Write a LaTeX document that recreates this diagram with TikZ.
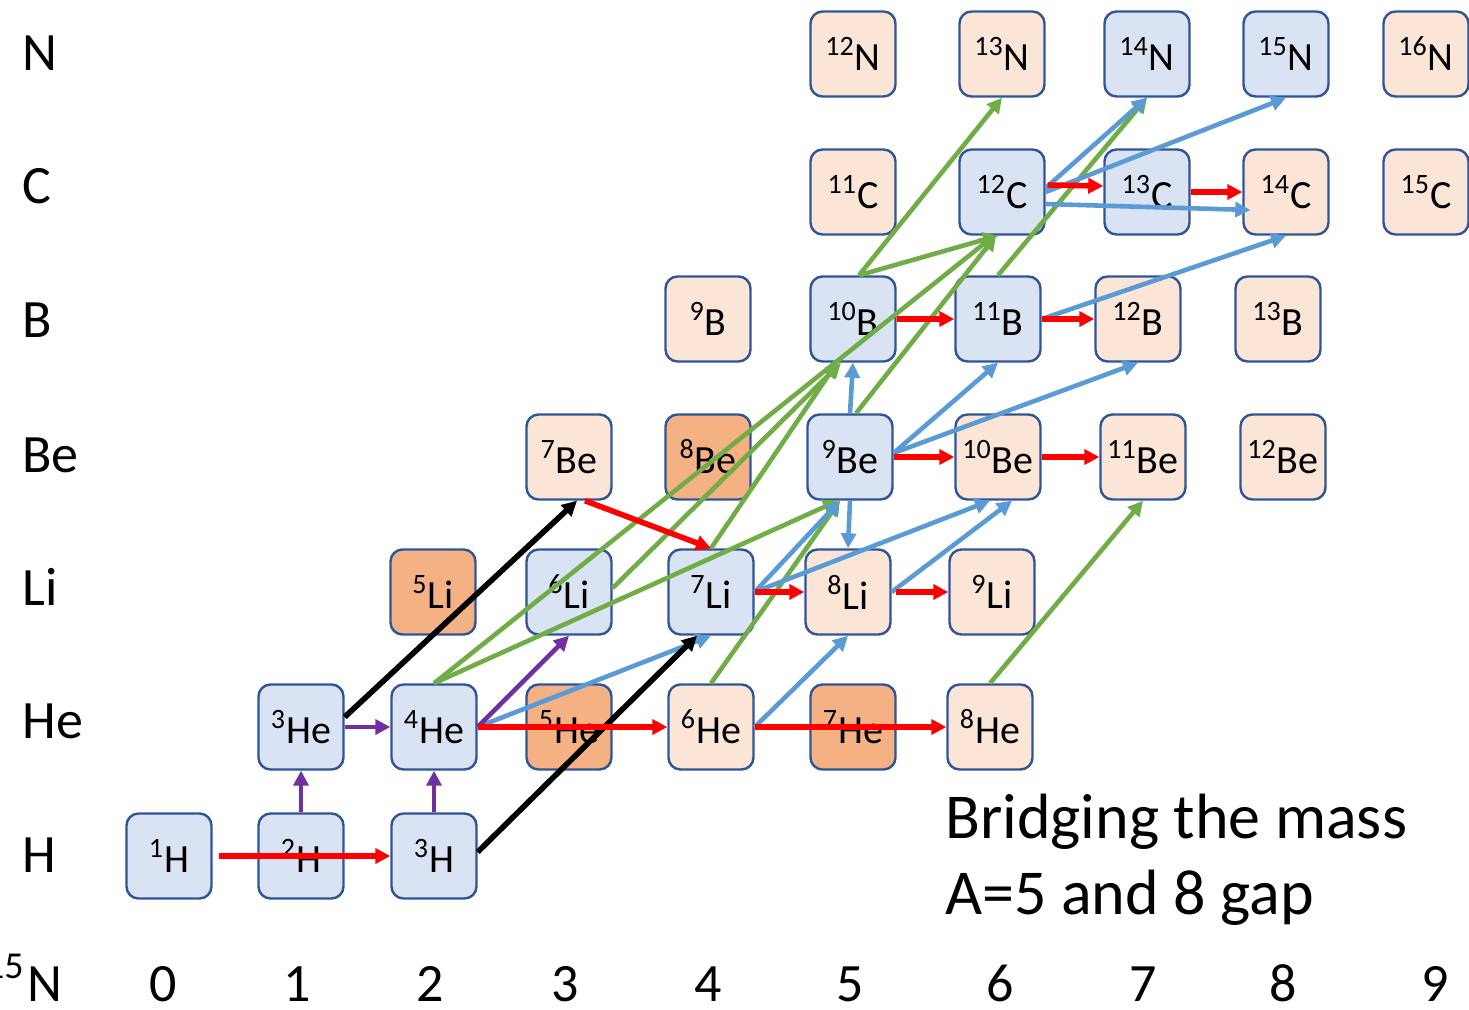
\documentclass[tikz,border=0pt]{standalone}
\usepackage{fontspec}
\setmainfont{Carlito}
\usetikzlibrary{arrows.meta}
\definecolor{bxblue}{HTML}{DAE3F3}
\definecolor{bxpeach}{HTML}{FBE5D6}
\definecolor{bxorange}{HTML}{F4B183}
\definecolor{bxborder}{HTML}{2F5597}
\definecolor{agreen}{HTML}{70AD47}
\definecolor{ablue}{HTML}{5B9BD5}
\definecolor{apurple}{HTML}{7030A0}
\begin{document}
\begin{tikzpicture}[x=0.5pt,y=-0.5pt,
  iso/.style={draw=bxborder, line width=1.2pt, rounded corners=6pt, minimum width=42.5pt, minimum height=42.5pt, inner sep=0pt, font=\fontsize{20}{22}\selectfont},
  stab/.style={iso, fill=bxblue},
  unst/.style={iso, fill=bxpeach},
  unb/.style={iso, fill=bxorange},
  lbl/.style={anchor=base west, inner sep=0pt, font=\fontsize{27}{30}\selectfont},
  num/.style={anchor=base, inner sep=0pt, font=\fontsize{27}{30}\selectfont},
  tip/.style={-{Triangle[length=7.5pt,width=7.5pt]}},
  rarr/.style={tip, draw=red, line width=2.8pt},
  garr/.style={tip, draw=agreen, line width=2.3pt},
  barr/.style={tip, draw=ablue, line width=2.3pt},
  parr/.style={tip, draw=apurple, line width=2.3pt},
  karr/.style={tip, draw=black, line width=2.8pt}
]
\useasboundingbox (0,0) rectangle (1469,1009);
% row labels
\node[lbl] (lN) at (22,70) {N};
\node[lbl] (lC) at (22,203) {C};
\node[lbl] (lB) at (22,337) {B};
\node[lbl] (lBe) at (22,472) {Be};
\node[lbl] (lLi) at (22,605) {Li};
\node[lbl] (lHe) at (22,738) {He};
\node[lbl] (lH) at (22,872) {H};
\node[anchor=base east, inner sep=0pt, font=\fontsize{27}{30}\selectfont] (lNn) at (63,1001) {\raisebox{0.42em}{\fontsize{19}{19}\selectfont 15}\kern2pt N};
% column numbers
\foreach \n/\x in {0/163,1/297,2/430,3/565,4/708,5/850,6/1000,7/1143,8/1283,9/1435}
  \node[num] (c\n) at (\x,1001) {\n};
% isotopes
\node[stab] (h1) at (169,856) {\textsuperscript{1}H};
\node[stab] (h2) at (301,856) {\textsuperscript{2}H};
\node[stab] (h3) at (434,856) {\textsuperscript{3}H};
\node[stab] (he3) at (301,727) {\textsuperscript{3}He};
\node[stab] (he4) at (434,727) {\textsuperscript{4}He};
\node[unb] (he5) at (569,727) {\textsuperscript{5}He};
\node[unst] (he6) at (711,727) {\textsuperscript{6}He};
\node[unb] (he7) at (853,727) {\textsuperscript{7}He};
\node[unst] (he8) at (990,727) {\textsuperscript{8}He};
\node[unb] (li5) at (433,592) {\textsuperscript{5}Li};
\node[stab] (li6) at (569,592) {\textsuperscript{6}Li};
\node[stab] (li7) at (711,592) {\textsuperscript{7}Li};
\node[unst] (li8) at (848,592) {\textsuperscript{8}Li};
\node[unst] (li9) at (992,592) {\textsuperscript{9}Li};
\node[unst] (be7) at (569,457) {\textsuperscript{7}Be};
\node[unb] (be8) at (708,457) {\textsuperscript{8}Be};
\node[stab] (be9) at (850,457) {\textsuperscript{9}Be};
\node[unst] (be10) at (998,457) {\textsuperscript{10}Be};
\node[unst] (be11) at (1143,457) {\textsuperscript{11}Be};
\node[unst] (be12) at (1283,457) {\textsuperscript{12}Be};
\node[unst] (b9) at (708,319) {\textsuperscript{9}B};
\node[stab] (b10) at (853,319) {\textsuperscript{10}B};
\node[stab] (b11) at (998,319) {\textsuperscript{11}B};
\node[unst] (b12) at (1138,319) {\textsuperscript{12}B};
\node[unst] (b13) at (1278,319) {\textsuperscript{13}B};
\node[unst] (c11) at (853,192) {\textsuperscript{11}C};
\node[stab] (c12) at (1002,192) {\textsuperscript{12}C};
\node[stab] (c13) at (1147,192) {\textsuperscript{13}C};
\node[unst] (c14) at (1286,192) {\textsuperscript{14}C};
\node[unst] (c15) at (1426,192) {\textsuperscript{15}C};
\node[unst] (n12) at (853,54) {\textsuperscript{12}N};
\node[unst] (n13) at (1002,54) {\textsuperscript{13}N};
\node[stab] (n14) at (1147,54) {\textsuperscript{14}N};
\node[stab] (n15) at (1286,54) {\textsuperscript{15}N};
\node[unst] (n16) at (1426,54) {\textsuperscript{16}N};
% caption
\node[anchor=base west, inner sep=0pt, font=\fontsize{32}{36}\selectfont] (cap1) at (945,838) {Bridging the mass};
\node[anchor=base west, inner sep=0pt, font=\fontsize{32}{36}\selectfont] (cap2) at (945,914) {A=5 and 8 gap};
% green (alpha)
\draw[garr] (he4.north) -- ([xshift=-4pt]c12.south);
\draw[garr] (he4.north) -- ([xshift=-6pt]be9.south);
\draw[garr] ([yshift=2pt]li6.east) -- ([xshift=-6pt]b10.south);
\draw[garr] (li7.north) -- ([xshift=-8pt]b10.south);
\draw[garr] (he6.north) -- ([xshift=-5pt]be9.south);
\draw[garr] ([xshift=3pt]be9.north) -- ([xshift=-3pt]c12.south);
\draw[garr] ([xshift=3pt]b10.north) -- (n13.south);
\draw[garr] ([xshift=3pt]b10.north) -- ([xshift=-2pt]c12.south);
\draw[garr] (b11.north) -- (n14.south);
\draw[garr] (he8.north) -- (be11.south);
% blue
\draw[barr] (he4.east) -- (li7.south);
\draw[barr] (he6.east) -- (li8.south);
\draw[barr] (li7.east) -- ([xshift=-5pt]be9.south);
\draw[barr] (li7.east) -- ([xshift=-4pt]be10.south);
\draw[barr] (be9.south) -- (li8.north);
\draw[barr] (li8.east) -- ([xshift=7pt]be10.south);
\draw[barr] (be9.north) -- (b10.south);
\draw[barr] ([yshift=2pt]be9.east) -- (b11.south);
\draw[barr] ([yshift=2pt]be9.east) -- (b12.south);
\draw[barr] (b11.east) -- (c14.south);
\draw[barr] ([yshift=2pt]c12.east) -- (n14.south);
\draw[barr] (c12.east) -- (n15.south);
\draw[barr] ([yshift=-6pt]c12.east) -- ([xshift=4pt,yshift=-9pt]c14.west);
% purple
\draw[parr] (h2.north) -- (he3.south);
\draw[parr] (h3.north) -- (he4.south);
\draw[parr] (he3.east) -- (he4.west);
\draw[parr] (he4.east) -- (li6.south);
% black
\draw[karr] ([yshift=5pt]he3.east) -- ([xshift=4pt]be7.south);
\draw[karr] ([yshift=2pt]h3.east) -- ([xshift=-7pt]li7.south);
% red
\draw[rarr] ([xshift=3pt]h1.east) -- (h3.west);
\draw[rarr] (he4.east) -- (he6.west);
\draw[rarr] (he6.east) -- (he8.west);
\draw[rarr] ([xshift=8pt]be7.south) -- (li7.north);
\draw[rarr] (li7.east) -- (li8.west);
\draw[rarr] ([xshift=2pt]li8.east) -- (li9.west);
\draw[rarr] (be9.east) -- (be10.west);
\draw[rarr] (be10.east) -- (be11.west);
\draw[rarr] (b10.east) -- (b11.west);
\draw[rarr] (b11.east) -- (b12.west);
\draw[rarr] ([yshift=3.5pt,xshift=1pt]c12.east) -- ([yshift=3pt]c13.west);
\draw[rarr] (c13.east) -- (c14.west);
\end{tikzpicture}
\end{document}
